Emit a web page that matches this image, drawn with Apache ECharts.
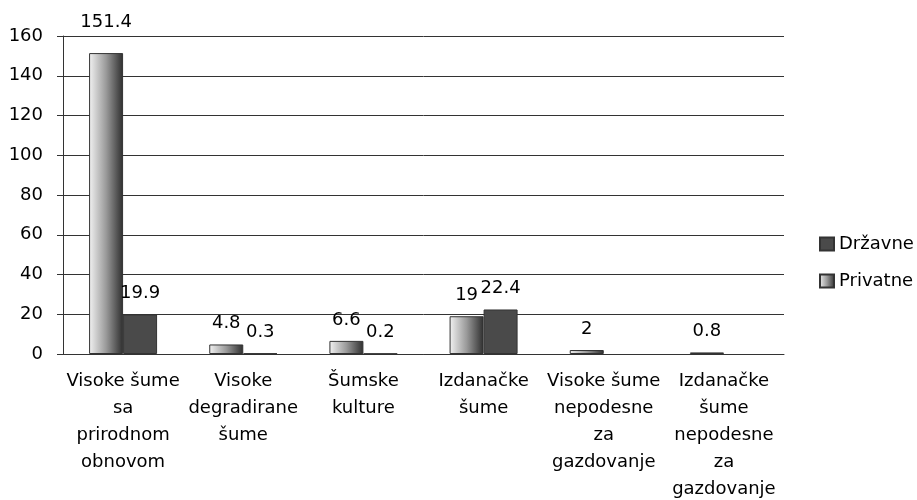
<!DOCTYPE html>
<html>
<head>
<meta charset="utf-8">
<script src="https://cdn.jsdelivr.net/npm/echarts@6/dist/echarts.min.js"></script>
<style>
    html, body { margin: 0; padding: 0; background: #fff; }
    #grafico { width: 917px; height: 500px; }
</style>
</head>
<body>
<div id="grafico"></div>
<script>
// kategorije (ručni prelomi kao u originalu)
var kategorije = [
    'Visoke šume\nsa\nprirodnom\nobnovom',
    'Visoke\ndegradirane\nšume',
    'Šumske\nkulture',
    'Izdanačke\nšume',
    'Visoke šume\nnepodesne\nza\ngazdovanje',
    'Izdanačke\nšume\nnepodesne\nza\ngazdovanje'
];
var privatne = [151.4, 4.8, 6.6, 19, 2, 0.8];
var drzavne = [19.9, 0.3, 0.2, 22.4, null, null];
var yTicks = [0, 20, 40, 60, 80, 100, 120, 140, 160];

var fontFam = 'DejaVu Sans';

var gradijent = new echarts.graphic.LinearGradient(0, 0, 1, 0, [
    { offset: 0, color: '#f2f2f2' },
    { offset: 0.5, color: '#9a9a9a' },
    { offset: 1, color: '#2e2e2e' }
]);

// najvisi stupac ima oznaku malo vise (kao u Excelu)
var privatneData = privatne.map(function (v, i) {
    return i === 0 ? { value: v, label: { distance: 22 } } : v;
});

var chart = echarts.init(document.getElementById('grafico'));

chart.setOption({
    animation: false,
    textStyle: { fontFamily: fontFam, color: '#000' },
    grid: { left: 63, right: 133, top: 36, bottom: 146, containLabel: false, outerBoundsMode: 'none' },
    legend: {
        orient: 'vertical',
        left: 819,
        top: 235,
        padding: 0,
        icon: 'rect',
        itemWidth: 14,
        itemHeight: 13,
        itemGap: 19,
        data: ['Državne', 'Privatne'],
        textStyle: { fontFamily: fontFam, fontSize: 18, color: '#000' }
    },
    xAxis: {
        type: 'category',
        data: kategorije,
        axisLine: { lineStyle: { color: '#333', width: 1 } },
        axisTick: { length: 6, lineStyle: { color: '#333' } },
        axisLabel: {
            interval: 0,
            margin: 14,
            fontFamily: fontFam,
            fontSize: 18,
            lineHeight: 27,
            color: '#000'
        }
    },
    yAxis: {
        type: 'value',
        min: yTicks[0],
        max: yTicks[yTicks.length - 1],
        interval: 20,
        axisLine: { show: true, lineStyle: { color: '#333', width: 1 } },
        axisTick: { show: true, length: 6, lineStyle: { color: '#333' } },
        axisLabel: { margin: 20, fontFamily: fontFam, fontSize: 18, color: '#000' },
        splitLine: { lineStyle: { color: '#333', width: 1 } }
    },
    series: [{
        name: 'Privatne',
        type: 'bar',
        barWidth: 34,
        barGap: '0%',
        itemStyle: { color: gradijent, borderColor: '#333', borderWidth: 1 },
        label: { show: true, position: 'top', distance: 12, fontFamily: fontFam, fontSize: 18, color: '#000' },
        data: privatneData
    }, {
        name: 'Državne',
        type: 'bar',
        barWidth: 34,
        barGap: '0%',
        itemStyle: { color: '#4a4a4a', borderColor: '#333', borderWidth: 1 },
        label: { show: true, position: 'top', distance: 12, fontFamily: fontFam, fontSize: 18, color: '#000' },
        data: drzavne
    }]
});
</script>
</body>
</html>
